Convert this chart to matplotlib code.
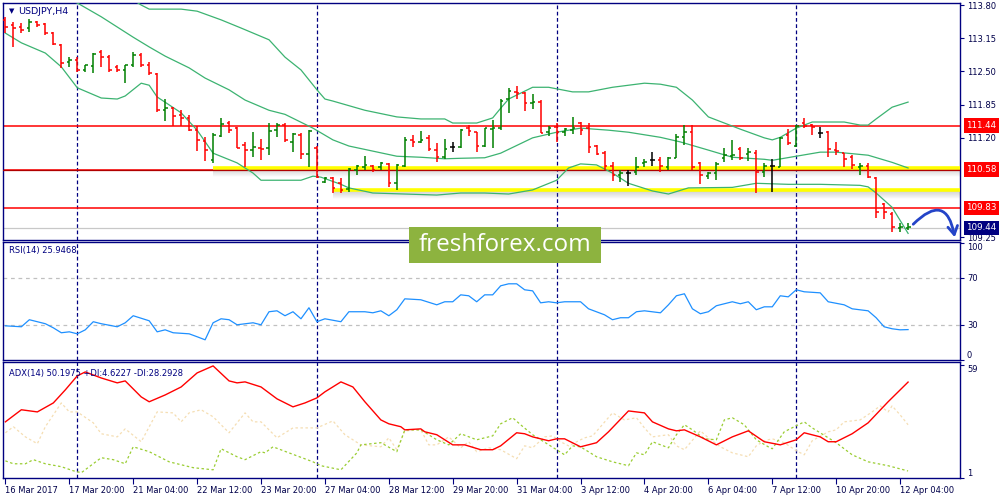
import matplotlib
matplotlib.use("Agg")
import matplotlib.pyplot as plt
import matplotlib.transforms as mtransforms
from matplotlib.patches import Rectangle
import numpy as np

# ---- USDJPY H4 bars, 16 Mar 2017 12:00 .. 12 Apr 2017 08:00 ----
opens = [113.51, 113.41, 113.37, 113.35, 113.47, 113.43, 113.25, 113.02, 112.68, 112.72,
         112.53, 112.61, 112.88, 112.78, 112.59, 112.53, 112.63, 112.82, 112.63, 112.45,
         111.74, 111.78, 111.65, 111.59, 111.35, 111.14, 110.76, 111.23, 111.49, 111.39,
         111.06, 110.96, 111.00, 111.00, 111.35, 111.45, 111.12, 111.25, 110.88, 111.00,
         110.33, 110.41, 110.31, 110.20, 110.57, 110.63, 110.65, 110.63, 110.69, 110.31,
         110.65, 111.16, 111.12, 111.20, 110.96, 110.82, 111.02, 111.02, 111.39, 111.31,
         111.04, 111.37, 111.39, 111.96, 112.10, 112.08, 111.88, 111.90, 111.31, 111.41,
         111.31, 111.35, 111.49, 111.39, 111.04, 110.90, 110.65, 110.47, 110.51, 110.53,
         110.71, 110.76, 110.76, 110.63, 110.80, 111.21, 111.31, 110.71, 110.45, 110.51,
         110.80, 110.84, 110.98, 110.88, 110.90, 110.53, 110.65, 110.63, 111.25, 111.04,
         111.49, 111.45, 111.29, 111.31, 110.96, 110.90, 110.82, 110.63, 110.65, 110.41,
         109.90, 109.71, 109.43, 109.43]
highs = [113.57, 113.47, 113.45, 113.53, 113.49, 113.45, 113.27, 113.04, 112.78, 112.78,
         112.63, 112.86, 112.92, 112.82, 112.63, 112.63, 112.88, 112.86, 112.68, 112.47,
         111.96, 111.80, 111.74, 111.65, 111.43, 111.21, 111.29, 111.59, 111.53, 111.41,
         111.12, 111.31, 111.18, 111.49, 111.49, 111.49, 111.29, 111.29, 111.35, 111.04,
         110.43, 110.43, 110.41, 110.61, 110.67, 110.84, 110.67, 110.72, 110.71, 110.69,
         111.21, 111.25, 111.33, 111.25, 111.10, 111.18, 111.12, 111.37, 111.45, 111.31,
         111.39, 111.55, 111.96, 112.18, 112.21, 112.10, 112.06, 111.94, 111.43, 111.49,
         111.39, 111.61, 111.51, 111.49, 111.06, 110.94, 110.72, 110.57, 110.57, 110.82,
         110.78, 110.92, 110.82, 110.82, 111.27, 111.45, 111.45, 110.72, 110.53, 110.72,
         111.00, 111.16, 111.02, 111.00, 110.96, 110.71, 110.78, 111.21, 111.37, 111.45,
         111.59, 111.47, 111.41, 111.33, 111.12, 110.90, 110.86, 110.71, 110.71, 110.43,
         109.92, 109.74, 109.53, 109.53]
lows = [113.25, 112.98, 113.25, 113.27, 113.37, 113.21, 113.02, 112.57, 112.59, 112.49,
        112.49, 112.47, 112.59, 112.49, 112.49, 112.27, 112.59, 112.59, 112.43, 111.70,
        111.53, 111.43, 111.43, 111.33, 110.94, 110.74, 110.71, 111.21, 111.29, 111.00,
        110.63, 110.82, 110.76, 110.86, 111.21, 111.12, 110.92, 110.78, 110.63, 110.41,
        110.31, 110.12, 110.12, 110.14, 110.47, 110.57, 110.53, 110.57, 110.23, 110.18,
        110.63, 111.02, 111.10, 110.94, 110.72, 110.78, 110.92, 111.00, 111.23, 110.92,
        111.02, 111.00, 111.35, 111.69, 111.96, 111.72, 111.76, 111.29, 111.23, 111.12,
        111.23, 111.27, 111.25, 110.90, 110.86, 110.57, 110.35, 110.33, 110.25, 110.47,
        110.63, 110.65, 110.53, 110.57, 110.80, 111.06, 110.57, 110.29, 110.39, 110.37,
        110.72, 110.76, 110.76, 110.74, 110.12, 110.43, 110.14, 110.63, 111.06, 111.02,
        111.39, 111.25, 111.20, 110.82, 110.86, 110.63, 110.59, 110.47, 110.41, 109.63,
        109.61, 109.35, 109.35, 109.39]
closes = [113.37, 113.35, 113.31, 113.47, 113.41, 113.25, 113.04, 112.67, 112.72, 112.53,
          112.63, 112.84, 112.78, 112.53, 112.53, 112.63, 112.82, 112.63, 112.47, 111.74,
          111.78, 111.63, 111.59, 111.35, 111.16, 110.96, 111.25, 111.47, 111.35, 111.00,
          110.96, 111.02, 110.98, 111.33, 111.45, 111.16, 111.27, 110.88, 111.33, 110.43,
          110.41, 110.22, 110.18, 110.59, 110.65, 110.67, 110.57, 110.71, 110.31, 110.67,
          111.16, 111.12, 111.16, 110.98, 110.82, 110.98, 111.02, 111.35, 111.33, 111.04,
          111.39, 111.39, 111.92, 112.12, 112.08, 111.88, 111.90, 111.29, 111.39, 111.31,
          111.37, 111.39, 111.35, 111.02, 110.88, 110.65, 110.47, 110.51, 110.51, 110.63,
          110.72, 110.76, 110.65, 110.80, 111.21, 111.31, 110.63, 110.47, 110.51, 110.69,
          110.86, 110.86, 110.80, 110.92, 110.53, 110.65, 110.65, 111.20, 111.10, 111.43,
          111.43, 111.41, 111.29, 110.98, 110.94, 110.78, 110.67, 110.65, 110.43, 109.74,
          109.74, 109.45, 109.45, 109.45]

# Bollinger bands (bar index, price)
bb_up_idx = [0, 10, 15, 17, 18, 22, 24, 27, 29.5, 33, 35, 37, 39, 40, 41, 45, 49, 52, 55,
             56, 59, 61, 62, 63, 66, 68, 71, 73, 76, 80, 82, 84, 86, 88, 90, 92, 95, 96,
             97, 99, 101, 105, 107, 108, 109, 111, 113]
bb_up = [114.60, 114.20, 114.00, 113.80, 113.72, 113.72, 113.68, 113.51, 113.35, 113.12,
         112.78, 112.53, 112.14, 111.96, 111.92, 111.74, 111.61, 111.57, 111.57, 111.49,
         111.49, 111.59, 111.78, 111.96, 112.19, 112.19, 112.10, 112.10, 112.19, 112.27,
         112.25, 112.19, 111.94, 111.61, 111.49, 111.37, 111.20, 111.16, 111.21, 111.39,
         111.51, 111.51, 111.45, 111.45, 111.57, 111.80, 111.90]
bb_mid_idx = [0, 5, 9, 12, 16, 18, 20, 23, 25, 28, 30, 33, 35, 38.5, 41, 43, 46, 49, 52,
              55, 57, 60, 62, 66, 69, 72, 75.5, 78, 82, 84.5, 88, 91, 95, 96, 99, 102,
              104, 108, 111, 113]
bb_mid = [114.25, 114.05, 113.84, 113.57, 113.17, 112.98, 112.80, 112.57, 112.37, 112.14,
          111.94, 111.74, 111.66, 111.39, 111.16, 111.04, 110.94, 110.84, 110.82, 110.79,
          110.80, 110.81, 110.90, 111.20, 111.31, 111.39, 111.35, 111.31, 111.21, 111.12,
          110.96, 110.82, 110.78, 110.76, 110.84, 110.92, 110.92, 110.86, 110.72, 110.61]
bb_low_idx = [0, 2, 5, 7, 9, 12, 14, 15, 17, 18, 19, 22, 24, 26, 29, 31, 32, 37, 38.5,
              39.5, 42, 43, 46, 54, 57, 60, 63, 66, 69, 70.5, 72, 74, 76, 78, 81, 83,
              85.5, 91, 94, 98, 102, 107, 108, 109, 111, 113]
bb_low = [113.25, 113.06, 112.86, 112.59, 112.18, 111.98, 111.96, 112.02, 112.27, 112.23,
          112.00, 111.69, 111.35, 110.90, 110.71, 110.51, 110.37, 110.37, 110.45, 110.43,
          110.29, 110.22, 110.12, 110.08, 110.12, 110.12, 110.10, 110.18, 110.37, 110.61,
          110.69, 110.67, 110.51, 110.31, 110.16, 110.10, 110.22, 110.23, 110.31, 110.29,
          110.29, 110.27, 110.24, 110.12, 109.84, 109.33]

# RSI(14)
rsi_idx = [0, 2, 3, 5, 6, 7, 8, 9, 10, 11, 12, 14, 15, 16, 18, 19, 20, 21, 23, 24, 25,
           26, 27, 28, 29, 31, 32, 33, 34, 35, 36, 37, 38, 39, 40, 42, 43, 45, 46, 47,
           48, 49, 50, 52, 54, 55, 56, 57, 58, 59, 60, 61, 62, 63, 64, 65, 66, 67, 68,
           69, 70, 72, 73, 75, 76, 77, 78, 79, 80, 82, 83, 84, 85, 86, 87, 88, 89, 91,
           92, 93, 94, 95, 96, 97, 98, 99, 100, 102, 103, 105, 106, 108, 109, 110, 111,
           112, 113]
rsi_val = [29.1, 28.3, 34.3, 30.9, 27.4, 23.2, 24.0, 22.3, 25.7, 32.6, 30.9, 28.3, 31.7,
           37.7, 33.4, 24.0, 25.7, 23.2, 22.3, 19.8, 17.2, 31.7, 35.1, 34.3, 30.0, 31.7,
           30.0, 41.1, 41.9, 37.7, 41.1, 35.1, 44.5, 32.6, 35.1, 32.6, 41.1, 41.1, 40.2,
           41.9, 37.7, 42.8, 52.1, 51.3, 47.0, 49.6, 49.6, 55.5, 54.7, 49.6, 55.5, 55.5,
           63.2, 64.9, 64.9, 59.8, 58.9, 48.7, 49.6, 48.7, 49.6, 49.6, 43.6, 38.5, 34.3,
           36.0, 36.0, 41.1, 41.9, 40.2, 47.0, 54.7, 56.4, 43.6, 39.4, 41.1, 46.2, 49.6,
           47.9, 49.6, 42.8, 45.3, 45.3, 54.7, 53.8, 59.8, 58.1, 57.2, 49.6, 47.0, 43.6,
           41.9, 36.0, 28.3, 26.6, 25.7, 25.9]

# ADX(14) and directional lines
adx_idx = [0, 2, 4, 6, 7.5, 9, 10, 12, 14, 15, 17, 18, 20, 22, 24, 26, 28, 29, 30, 32,
           34, 36, 37.5, 39, 40, 42, 43.5, 45, 47, 48, 49.5, 50, 52, 52.5, 54, 56, 57.5,
           59.5, 61, 62, 64, 65, 66, 68, 69, 70, 72, 74, 75.5, 78, 80, 81, 83, 84, 85,
           87, 89, 91, 93, 95, 97, 99, 100, 102, 103, 104, 106, 108, 110.5, 113]
adx_val = [29.8, 36.0, 34.9, 39.5, 46.2, 53.4, 55.4, 52.3, 49.8, 50.8, 42.6, 40.1, 43.6,
           47.7, 54.9, 58.5, 50.8, 49.8, 50.3, 47.7, 41.6, 37.5, 39.5, 42.1, 45.2, 50.3,
           47.7, 40.1, 30.8, 28.8, 27.3, 25.7, 26.2, 24.7, 23.2, 18.0, 18.0, 15.5, 15.5,
           17.5, 24.2, 23.7, 22.1, 20.1, 21.1, 21.1, 17.0, 19.1, 24.7, 35.4, 34.4, 29.8,
           26.2, 25.2, 25.7, 22.1, 18.0, 22.1, 25.2, 19.6, 18.0, 20.6, 24.2, 22.1, 19.6,
           19.6, 23.7, 29.3, 40.1, 50.2]
mdi_idx = [0, 1, 2.5, 4, 5, 7, 8, 9, 11, 12, 14, 15, 17, 19, 21, 22, 23, 24.5, 26, 28,
           30, 31, 32, 34, 36, 39, 41, 42.5, 44.5, 47, 48, 49, 50, 52, 53, 54, 55.5, 57,
           58, 59, 60.5, 62, 64, 65, 66, 67.5, 68.5, 69.5, 70.5, 72.5, 73.5, 74.5, 76,
           77.5, 79, 80, 81, 83, 84, 85, 87, 88, 89.5, 91, 93, 94, 95, 96, 97.5, 99, 100,
           101, 103, 104, 105, 107, 108.5, 109.5, 110.5, 111, 112, 113]
mdi_val = [24.2, 27.3, 22.1, 18.6, 27.3, 39.5, 34.9, 34.9, 29.3, 23.7, 22.1, 26.2, 19.6,
           34.9, 34.4, 29.8, 34.4, 36.0, 32.4, 24.2, 34.4, 29.8, 29.8, 21.6, 26.7, 26.7,
           30.3, 23.2, 18.0, 17.0, 21.6, 15.5, 25.2, 25.7, 18.0, 18.0, 22.1, 16.5, 19.6,
           14.5, 16.5, 15.5, 10.9, 17.5, 16.5, 22.1, 22.6, 19.6, 17.5, 21.6, 22.6, 27.3,
           34.4, 30.8, 31.9, 26.7, 22.1, 23.2, 17.5, 15.5, 25.2, 21.6, 17.0, 13.9, 11.9,
           17.5, 20.1, 21.1, 19.1, 15.0, 12.9, 20.1, 24.7, 25.7, 29.8, 30.8, 34.9, 38.0,
           34.9, 38.0, 33.4, 28.3]
pdi_idx = [0, 1, 2.5, 3.5, 5, 7, 8.5, 9.5, 10.5, 12, 13.5, 15, 16, 18, 20.5, 23.5, 26,
           27, 29, 30, 32, 32.5, 33.5, 35.5, 38.5, 39.5, 42, 44, 44.5, 47, 49, 50, 52,
           54, 55.5, 57, 59, 61, 62, 63.5, 64.5, 66, 69, 70, 71, 72, 74, 76, 78, 79, 80,
           81, 83, 84, 85, 86, 87.5, 89, 90, 91, 92.5, 94, 95.5, 96, 97.5, 99, 100, 101,
           104, 106, 108, 110.5, 113]
pdi_val = [9.8, 8.3, 8.3, 10.4, 8.3, 6.8, 4.7, 3.7, 6.8, 11.4, 10.4, 8.3, 17.0, 14.5, 9.3,
           6.3, 5.2, 16.0, 11.9, 10.4, 14.5, 13.9, 17.0, 13.9, 9.3, 7.3, 5.2, 13.9, 18.0,
           19.1, 14.5, 25.7, 25.7, 20.6, 18.0, 23.7, 20.6, 22.6, 28.8, 31.9, 28.3, 23.2,
           15.5, 12.9, 17.5, 17.0, 11.9, 9.3, 7.3, 13.9, 12.9, 19.6, 16.5, 23.2, 28.3,
           25.7, 21.1, 20.6, 30.8, 31.9, 28.3, 20.6, 17.0, 16.0, 24.7, 27.8, 29.8, 26.7,
           19.1, 12.9, 9.3, 7.3, 4.6]

# horizontal levels and drawn zones
red_levels = [111.44, 110.58, 109.83]
bid_price = 109.44
zone_levels = [110.60, 110.17]
zone_starts = [26, 41]
week_starts = [9, 39, 69, 99]
price_ticks = [113.80, 113.15, 112.50, 111.85, 111.20, 109.25]
date_tick_idx = list(range(0, 113, 8))
date_labels = ["16 Mar 2017", "17 Mar 20:00", "21 Mar 04:00", "22 Mar 12:00",
               "23 Mar 20:00", "27 Mar 04:00", "28 Mar 12:00", "29 Mar 20:00",
               "31 Mar 04:00", "3 Apr 12:00", "4 Apr 20:00", "6 Apr 04:00",
               "7 Apr 12:00", "10 Apr 20:00", "12 Apr 04:00"]

NAVY = "#000080"
TXT = "#00004A"
FS = 6.0
plt.rcParams["font.family"] = ["DejaVu Sans"]

fig = plt.figure(figsize=(10, 5), dpi=100)
fig.patch.set_facecolor("white")


def px_axes(left, top, right, bottom):
    return fig.add_axes([left / 1000, 1 - bottom / 500, (right - left) / 1000,
                         (bottom - top) / 500])


ax = px_axes(3, 3, 960, 240)
ax_rsi = px_axes(3, 242, 960, 360)
ax_adx = px_axes(3, 362, 960, 478)
XMAX = 119.5

for a in (ax, ax_rsi, ax_adx):
    a.set_xlim(-0.3, XMAX)
    for s in a.spines.values():
        s.set_color(NAVY)
        s.set_linewidth(1.0)
    a.yaxis.tick_right()
    a.tick_params(axis="y", direction="out", length=3, width=0.8, color=NAVY,
                  labelsize=FS, labelcolor=TXT, pad=2)
    a.tick_params(axis="x", bottom=False, labelbottom=False)
    for w in week_starts:
        a.axvline(w, color=NAVY, lw=0.9, ls=(0, (3, 2)), zorder=1)

# ---- price panel ----
ax.set_ylim(109.20, 113.84)
ax.set_yticks(price_ticks)
ax.set_yticklabels([f"{p:.2f}" for p in price_ticks])

for lvl in red_levels:
    ax.axhline(lvl, color="#FF0000", lw=1.1, zorder=2)
ax.axhline(bid_price, color="#C8C8C8", lw=0.9, zorder=1)

for lvl, start in zip(zone_levels, zone_starts):
    for k in range(1, 9):
        ax.hlines(lvl - 0.018 * k, start, XMAX, color="#808080",
                  alpha=0.2 * (1 - k / 9), lw=1.5, zorder=2)
    ax.hlines(lvl, start, XMAX, color="#FFFF00", lw=2.6, zorder=3)
ax.axhline(red_levels[1], color="#B00000", lw=0.9, zorder=3.5)

ax.plot(bb_up_idx, bb_up, color="#3CB371", lw=0.9, zorder=4)
ax.plot(bb_mid_idx, bb_mid, color="#3CB371", lw=0.9, zorder=4)
ax.plot(bb_low_idx, bb_low, color="#3CB371", lw=0.9, zorder=4)

idx = np.arange(len(opens))
o, h, l, c = map(np.array, (opens, highs, lows, closes))
cols = np.where(c > o, "#008000", np.where(c < o, "#FF0000", "#000000"))
ax.vlines(idx, l, h, colors=cols, lw=1.1, zorder=5)
ax.hlines(o, idx - 0.32, idx, colors=cols, lw=1.1, zorder=5)
ax.hlines(c, idx, idx + 0.32, colors=cols, lw=1.1, zorder=5)

ax.text(0.006, 0.965, "\u25bc", transform=ax.transAxes, fontsize=5, color=NAVY,
        va="center", ha="left")
ax.text(0.016, 0.965, "USDJPY,H4", transform=ax.transAxes, fontsize=6.8, color=NAVY,
        va="center", ha="left")

btrans = mtransforms.blended_transform_factory(ax.transAxes, ax.transData)
for lvl in red_levels:
    ax.text(1.0065, lvl, f"{lvl:.2f}", transform=btrans, fontsize=6.3, color="white",
            va="center", ha="left", zorder=10, clip_on=False,
            bbox=dict(boxstyle="square,pad=0.3", fc="#FF0000", ec="none"))
ax.text(1.0065, bid_price, f"{bid_price:.2f}", transform=btrans, fontsize=6.3,
        color="white", va="center", ha="left", zorder=10, clip_on=False,
        bbox=dict(boxstyle="square,pad=0.3", fc=NAVY, ec="none"))

# hand-drawn forecast arrow
ax.annotate("", xy=(118.9, 109.20), xytext=(113.4, 109.47),
            arrowprops=dict(arrowstyle="->,head_length=0.6,head_width=0.35",
                            connectionstyle="arc3,rad=-1.0", color="#2444C8", lw=2.0),
            annotation_clip=False, zorder=12)

# ---- RSI panel ----
ax_rsi.set_ylim(0, 100.5)
ax_rsi.axhline(70, color="#C0C0C0", lw=0.9, ls=(0, (3, 3)), zorder=1)
ax_rsi.axhline(30, color="#C0C0C0", lw=0.9, ls=(0, (3, 3)), zorder=1)
ax_rsi.plot(rsi_idx, rsi_val, color="#1E90FF", lw=0.9, zorder=3)
ax_rsi.set_yticks([100, 70, 30, 0])
ax_rsi.set_yticklabels(["100", "70", "30", "0"])
rl = ax_rsi.get_yticklabels()
rl[0].set_va("top")
rl[3].set_va("bottom")
ax_rsi.text(0.006, 0.93, "RSI(14) 25.9468", transform=ax_rsi.transAxes, fontsize=6.0,
            color=NAVY, va="center", ha="left")

# ---- ADX panel ----
ax_adx.set_ylim(1.0, 60.5)
ax_adx.plot(mdi_idx, mdi_val, color="#F5DEB3", lw=0.9, ls=(0, (2, 2)), zorder=2)
ax_adx.plot(pdi_idx, pdi_val, color="#9ACD32", lw=0.9, ls=(0, (2, 2)), zorder=2)
ax_adx.plot(adx_idx, adx_val, color="#FF0000", lw=1.0, zorder=3)
ax_adx.set_yticks([59, 1])
ax_adx.set_yticklabels(["59", "1"])
al = ax_adx.get_yticklabels()
al[0].set_va("top")
al[1].set_va("bottom")
ax_adx.text(0.006, 0.9, "ADX(14) 50.1975 +DI:4.6227 -DI:28.2928",
            transform=ax_adx.transAxes, fontsize=6.0, color=NAVY, va="center", ha="left")

ax_adx.set_xticks(date_tick_idx)
ax_adx.set_xticklabels(date_labels)
ax_adx.tick_params(axis="x", bottom=True, labelbottom=True, direction="out", length=4,
                   width=0.8, color=NAVY, labelsize=FS, labelcolor=TXT, pad=2)
for lbl in ax_adx.get_xticklabels():
    lbl.set_ha("left")

# ---- watermark ----
fig.patches.append(Rectangle((0.409, 1 - 263 / 500), 0.192, 36 / 500,
                             transform=fig.transFigure, fc="#8DB33F", ec="none",
                             zorder=20))
fig.text(0.505, 1 - 245 / 500, "freshforex.com", fontsize=17.5, color="white",
         family=["Open Sans", "DejaVu Sans"], ha="center", va="center", zorder=21)

fig.savefig("out.png", dpi=100, facecolor="white")
